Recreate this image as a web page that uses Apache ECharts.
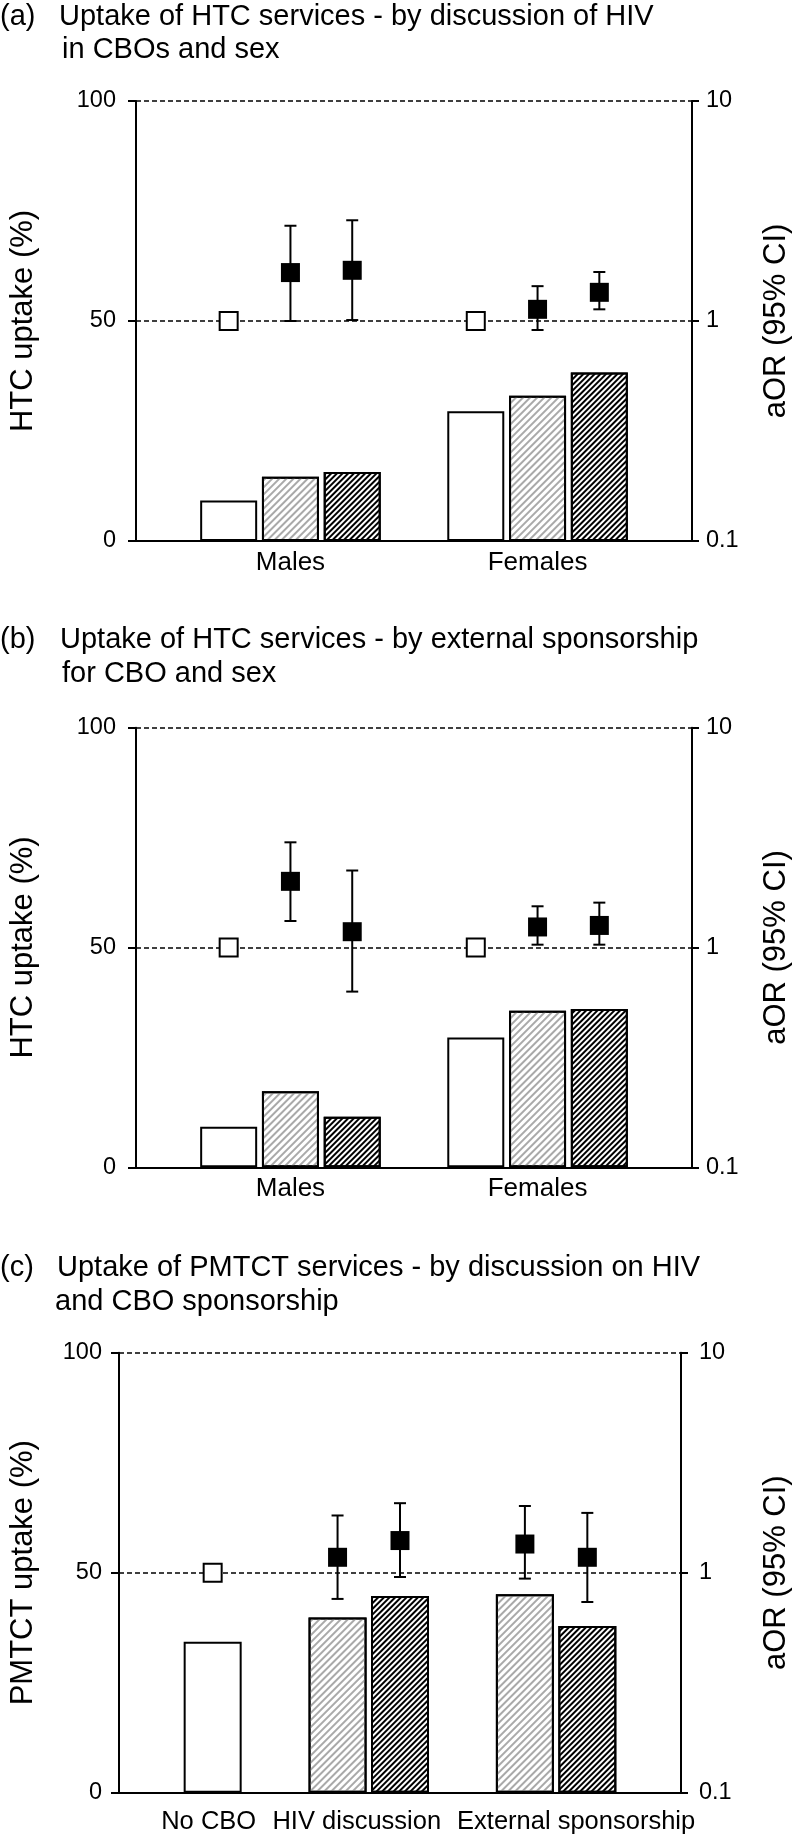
<!DOCTYPE html>
<html>
<head>
<meta charset="utf-8">
<script src="https://cdn.jsdelivr.net/npm/echarts@6/dist/echarts.min.js"></script>
<style>
html,body{margin:0;padding:0;background:#fff;}
#chart{width:800px;height:1839px;}
</style>
</head>
<body>
<div id="chart"></div>
<script>
// ================= DATA =================
// Tick labels
const leftTicks = [0, 50, 100];
const rightTicks = [0.1, 1, 10];

// ---- Panel (a): Uptake of HTC services - by discussion of HIV in CBOs and sex
const catsA = ['Males', 'Females'];
const uptakeRefA  = [9.2, 29.5];
const uptakeLightA = [14.6, 33.0];
const uptakeDarkA = [15.7, 38.3];
const orRefA   = [1, 1];
const orLightA = [1.66, 1.13];
const loLightA = [1.00, 0.91];
const hiLightA = [2.71, 1.44];
const orDarkA  = [1.70, 1.35];
const loDarkA  = [1.01, 1.13];
const hiDarkA  = [2.87, 1.67];

// ---- Panel (b): Uptake of HTC services - by external sponsorship for CBO and sex
const catsB = ['Males', 'Females'];
const uptakeRefB  = [9.2, 29.5];
const uptakeLightB = [17.3, 35.6];
const uptakeDarkB = [11.5, 36.0];
const orRefB   = [1, 1];
const orLightB = [2.00, 1.24];
const loLightB = [1.32, 1.03];
const hiLightB = [3.01, 1.54];
const orDarkB  = [1.18, 1.26];
const loDarkB  = [0.63, 1.03];
const hiDarkB  = [2.24, 1.60];

// ---- Panel (c): Uptake of PMTCT services - by discussion on HIV and CBO sponsorship
const catsC = ['No CBO', 'HIV discussion', 'External sponsorship'];
const uptakeRefC  = [34.3, null, null];
const uptakeLightC = [null, 39.8, 45.1];
const uptakeDarkC = [null, 44.7, 37.9];
const orRefC   = [1, null, null];
const orLightC = [null, 1.175, 1.35];
const loLightC = [null, 0.76, 0.94];
const hiLightC = [null, 1.82, 2.01];
const orDarkC  = [null, 1.40, 1.175];
const loDarkC  = [null, 0.956, 0.736];
const hiDarkC  = [null, 2.07, 1.87];

// Titles
const titlesA = ['(a)', 'Uptake of HTC services - by discussion of HIV', 'in CBOs and sex'];
const titlesB = ['(b)', 'Uptake of HTC services - by external sponsorship', 'for CBO and sex'];
const titlesC = ['(c)', 'Uptake of PMTCT services - by discussion on HIV', 'and CBO sponsorship'];

// ================= STYLE / LAYOUT =================
const FONT = "'Liberation Sans', Arial, Helvetica, sans-serif";
const TITLE_SIZE = 29, NAME_SIZE = 31, TICK_SIZE = 23.5;
const decalLight = {symbol:'rect', symbolSize:1, color:'#a9a9a9', dashArrayX:[1,0], dashArrayY:[1.1,2.1], rotation:-Math.PI/4};
const decalDark  = {symbol:'rect', symbolSize:1, color:'#000', dashArrayX:[1,0], dashArrayY:[1.8,1.7], rotation:-Math.PI/4};
const kindStyles = [
  {color:'#fff', borderColor:'#000', borderWidth:2},
  {color:'#fff', borderColor:'#000', borderWidth:2, decal:decalLight},
  {color:'#fff', borderColor:'#000', borderWidth:2, decal:decalDark}
];

const panels = [
  {cats:catsA, bars:[uptakeRefA, uptakeLightA, uptakeDarkA], ors:[orRefA, orLightA, orDarkA],
   los:[null, loLightA, loDarkA], his:[null, hiLightA, hiDarkA], yName:'HTC uptake (%)', titles:titlesA,
   grid:{left:130.7, top:101, width:567.3, height:440}, leftGap:97, rightGap:69, leftMargin:20, rightMargin:14,
   catMargin:9, catSize:26, barWidth:57, titleTop:[2, 35], titleLeft:[0, 59, 62], labelShift:[0,0]},
  {cats:catsB, bars:[uptakeRefB, uptakeLightB, uptakeDarkB], ors:[orRefB, orLightB, orDarkB],
   los:[null, loLightB, loDarkB], his:[null, hiLightB, hiDarkB], yName:'HTC uptake (%)', titles:titlesB,
   grid:{left:130.7, top:727.7, width:567.3, height:439.6}, leftGap:97, rightGap:69, leftMargin:20, rightMargin:14,
   catMargin:9, catSize:26, barWidth:57, titleTop:[625, 659], titleLeft:[0, 60, 62], labelShift:[0,0]},
  {cats:catsC, bars:[uptakeRefC, uptakeLightC, uptakeDarkC], ors:[orRefC, orLightC, orDarkC],
   los:[null, loLightC, loDarkC], his:[null, hiLightC, hiDarkC], yName:'PMTCT uptake (%)', titles:titlesC,
   grid:{left:113.3, top:1352.7, width:579, height:440}, leftGap:80, rightGap:80, leftMargin:17, rightMargin:18,
   catMargin:16, catSize:25.5, barWidth:58, titleTop:[1253, 1287], titleLeft:[0, 57, 55], labelShift:[-4,-12,20]}
];

// ================= BUILD =================
const option = {animation:false, backgroundColor:'#fff', title:[], grid:[], xAxis:[], yAxis:[], series:[]};

panels.forEach((p, g) => {
  // slot layout from group membership
  let cursor = 0;
  const slotMap = [], centers = [];
  p.cats.forEach((c, i) => {
    const members = [0,1,2].filter(k => p.bars[k][i] != null);
    const m = {};
    members.forEach((k, j) => { m[k] = cursor + j; });
    slotMap.push(m);
    centers.push(cursor + (members.length - 1) / 2);
    cursor += members.length + 1;
  });
  const lastSlot = cursor - 2;

  // titles
  const tStyle = {fontSize:TITLE_SIZE, fontWeight:'normal', color:'#000', fontFamily:FONT};
  option.title.push({text:p.titles[0], left:p.titleLeft[0], top:p.titleTop[0], padding:0, textStyle:tStyle});
  option.title.push({text:p.titles[1], left:p.titleLeft[1], top:p.titleTop[0], padding:0, textStyle:tStyle});
  option.title.push({text:p.titles[2], left:p.titleLeft[2], top:p.titleTop[1], padding:0, textStyle:tStyle});

  option.grid.push(Object.assign({containLabel:false}, p.grid));

  const rich = {};
  p.cats.forEach((c, i) => {
    const s = p.labelShift[i] || 0;
    rich['s' + i] = {fontSize:p.catSize, fontFamily:FONT, color:'#000',
      padding: s >= 0 ? [0, 0, 0, 2*s] : [0, -2*s, 0, 0]};
  });

  option.xAxis.push({
    gridIndex:g, type:'value', min:-1.5, max:lastSlot + 1.5,
    axisLine:{show:true, onZero:false, lineStyle:{color:'#000', width:2}},
    axisTick:{show:false}, splitLine:{show:false},
    axisLabel:{
      show:true, customValues:centers, margin:p.catMargin, fontSize:p.catSize, fontFamily:FONT, color:'#000',
      formatter:(v) => { const i = centers.findIndex(c => Math.abs(c - v) < 1e-6); return i < 0 ? '' : '{s' + i + '|' + p.cats[i] + '}'; },
      rich
    }
  });

  option.yAxis.push({
    gridIndex:g, type:'value', position:'left', min:leftTicks[0], max:leftTicks[leftTicks.length-1], interval:leftTicks[1]-leftTicks[0],
    name:p.yName, nameLocation:'middle', nameRotate:90, nameGap:p.leftGap,
    nameTextStyle:{fontSize:NAME_SIZE, fontFamily:FONT, color:'#000'},
    axisLine:{show:true, onZero:false, lineStyle:{color:'#000', width:2}},
    axisTick:{show:true, length:8, lineStyle:{color:'#000', width:2}},
    axisLabel:{fontSize:TICK_SIZE, fontFamily:FONT, color:'#000', margin:p.leftMargin},
    splitLine:{show:true, lineStyle:{color:'#000', width:1.5, type:[5,3]}}
  });
  option.yAxis.push({
    gridIndex:g, type:'log', logBase:10, position:'right', min:rightTicks[0], max:rightTicks[rightTicks.length-1],
    name:'aOR (95% CI)', nameLocation:'middle', nameRotate:90, nameGap:p.rightGap,
    nameTextStyle:{fontSize:NAME_SIZE, fontFamily:FONT, color:'#000'},
    axisLine:{show:true, onZero:false, lineStyle:{color:'#000', width:2}},
    axisTick:{show:true, length:7, lineStyle:{color:'#000', width:2}},
    axisLabel:{fontSize:TICK_SIZE, fontFamily:FONT, color:'#000', margin:p.rightMargin, formatter:(v) => String(+v.toPrecision(3))},
    splitLine:{show:false}
  });

  const yL = 2*g, yR = 2*g + 1;
  // bars
  [0,1,2].forEach(k => {
    const data = [];
    p.cats.forEach((c, i) => { if (p.bars[k][i] != null) data.push([slotMap[i][k], p.bars[k][i]]); });
    option.series.push({type:'bar', xAxisIndex:g, yAxisIndex:yL, barWidth:p.barWidth, barGap:'-100%',
      data, itemStyle:kindStyles[k], silent:true, z:2});
  });
  // error bars
  const errData = [];
  [1,2].forEach(k => {
    p.cats.forEach((c, i) => { if (p.ors[k][i] != null) errData.push([slotMap[i][k], p.los[k][i], p.his[k][i]]); });
  });
  option.series.push({type:'custom', xAxisIndex:g, yAxisIndex:yR, data:errData, encode:{x:0, y:[1,2]}, silent:true, z:4,
    renderItem:(params, api) => {
      const x = api.value(0), lo = api.value(1), hi = api.value(2);
      const a = api.coord([x, hi]), b = api.coord([x, lo]);
      const cap = 6, st = {stroke:'#000', lineWidth:2, fill:null};
      return {type:'group', children:[
        {type:'line', shape:{x1:a[0], y1:a[1], x2:b[0], y2:b[1]}, style:st},
        {type:'line', shape:{x1:a[0]-cap, y1:a[1], x2:a[0]+cap, y2:a[1]}, style:st},
        {type:'line', shape:{x1:b[0]-cap, y1:b[1], x2:b[0]+cap, y2:b[1]}, style:st}
      ]};
    }});
  // reference (open) squares
  const refData = [];
  p.cats.forEach((c, i) => { if (p.ors[0][i] != null) refData.push([slotMap[i][0], p.ors[0][i]]); });
  option.series.push({type:'scatter', xAxisIndex:g, yAxisIndex:yR, symbol:'rect', symbolSize:18, data:refData, silent:true, z:5,
    itemStyle:{color:'#fff', borderColor:'#000', borderWidth:2, opacity:1}});
  // filled squares
  const orData = [];
  [1,2].forEach(k => {
    p.cats.forEach((c, i) => { if (p.ors[k][i] != null) orData.push([slotMap[i][k], p.ors[k][i]]); });
  });
  option.series.push({type:'scatter', xAxisIndex:g, yAxisIndex:yR, symbol:'rect', symbolSize:19, data:orData, silent:true, z:6,
    itemStyle:{color:'#000', opacity:1}});
});

const chart = echarts.init(document.getElementById('chart'), null, {renderer:'canvas'});
chart.setOption(option);
</script>
</body>
</html>
